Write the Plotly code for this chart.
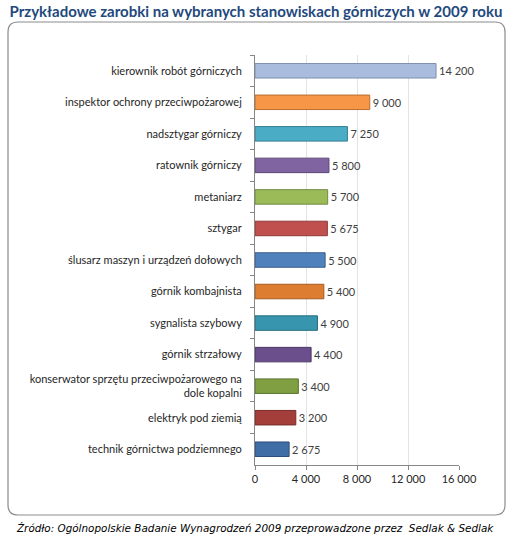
import plotly.graph_objects as go

# stanowiska (od góry) i zarobki brutto w zł
stanowiska = [
    "kierownik robót górniczych",
    "inspektor ochrony przeciwpożarowej",
    "nadsztygar górniczy",
    "ratownik górniczy",
    "metaniarz",
    "sztygar",
    "ślusarz maszyn i urządzeń dołowych",
    "górnik kombajnista",
    "sygnalista szybowy",
    "górnik strzałowy",
    "konserwator sprzętu przeciwpożarowego na<br>dole kopalni",
    "elektryk pod ziemią",
    "technik górnictwa podziemnego",
]
zarobki = [14200, 9000, 7250, 5800, 5700, 5675, 5500, 5400, 4900, 4400, 3400, 3200, 2675]

kolory = ["#A9BCDD", "#F79646", "#4BACC6", "#8064A2", "#9BBB59", "#C0504D", "#4F81BD",
          "#DD7D31", "#3796AE", "#6A4F8C", "#7F9F42", "#A33E3B", "#3F6DA6"]
krawedzie = ["#7F8FAE", "#B86E30", "#357F94", "#5C4877", "#718A40", "#8E3A38", "#3A5F8C",
             "#A35B22", "#276E80", "#4C3866", "#5C7530", "#782D2B", "#2C4F7A"]

W, H = 512, 539
L, R, T, B = 255, 53, 55, 74
pw, ph = W - L - R, H - T - B

fig = go.Figure(go.Bar(
    x=zarobki, y=stanowiska, orientation="h",
    marker=dict(color=kolory, line=dict(color=krawedzie, width=1)),
    width=0.46,
    texttemplate="%{x:,d}", textposition="outside", cliponaxis=False,
    textfont=dict(family="Lato", size=11, color="#404040"),
))

# zaokrąglona ramka wokół wykresu (w pikselach -> paper)
def px(x):
    return (x - L) / pw
def py(y):
    return (H - B - y) / ph

x0, x1, y0, y1, r = 8, 505, 22, 515, 10
path = (f"M {px(x0 + r)},{py(y0)} L {px(x1 - r)},{py(y0)} Q {px(x1)},{py(y0)} {px(x1)},{py(y0 + r)} "
        f"L {px(x1)},{py(y1 - r)} Q {px(x1)},{py(y1)} {px(x1 - r)},{py(y1)} "
        f"L {px(x0 + r)},{py(y1)} Q {px(x0)},{py(y1)} {px(x0)},{py(y1 - r)} "
        f"L {px(x0)},{py(y0 + r)} Q {px(x0)},{py(y0)} {px(x0 + r)},{py(y0)} Z")
fig.add_shape(type="path", path=path, xref="paper", yref="paper",
              line=dict(color="#8C8C8C", width=1.2), layer="below")

fig.update_layout(
    width=W, height=H,
    margin=dict(l=L, r=R, t=T, b=B),
    paper_bgcolor="white", plot_bgcolor="white",
    separators=", ",
    showlegend=False,
    font=dict(family="Lato", size=11, color="#262626"),
    title=dict(
        text="<b>Przykładowe zarobki na wybranych stanowiskach górniczych w 2009 roku</b>",
        x=0.5, xref="container", y=1 - 12 / H, yanchor="middle", yref="container",
        font=dict(family="Lato", size=15, color="#1F497D"),
    ),
    xaxis=dict(
        range=[0, 16000], dtick=4000, tickformat=",d", showgrid=True, gridcolor="#E3E3E3",
        showline=True, linecolor="#868686", ticks="outside", ticklen=4,
        tickcolor="#868686", zeroline=False, fixedrange=True,
    ),
    yaxis=dict(
        autorange="reversed", showline=True, linecolor="#868686",
        ticks="outside", ticklen=4, tickcolor="#868686", tickson="boundaries",
        ticklabelstandoff=10, fixedrange=True,
    ),
    annotations=[dict(
        text="<i>Źródło: Ogólnopolskie Badanie Wynagrodzeń 2009 przeprowadzone przez  Sedlak & Sedlak</i>",
        x=(255 - L) / pw, xref="paper", xanchor="center", y=(H - B - 528) / ph, yref="paper",
        yanchor="middle", showarrow=False,
        font=dict(family="DejaVu Sans", size=10.4, color="#000000"),
    )],
)

# bez domyślnego marginesu strony, żeby wykres zaczynał się w rogu okna
fig.write_html("out.html", config={"displayModeBar": False},
               post_script="document.body.style.margin='0';")
